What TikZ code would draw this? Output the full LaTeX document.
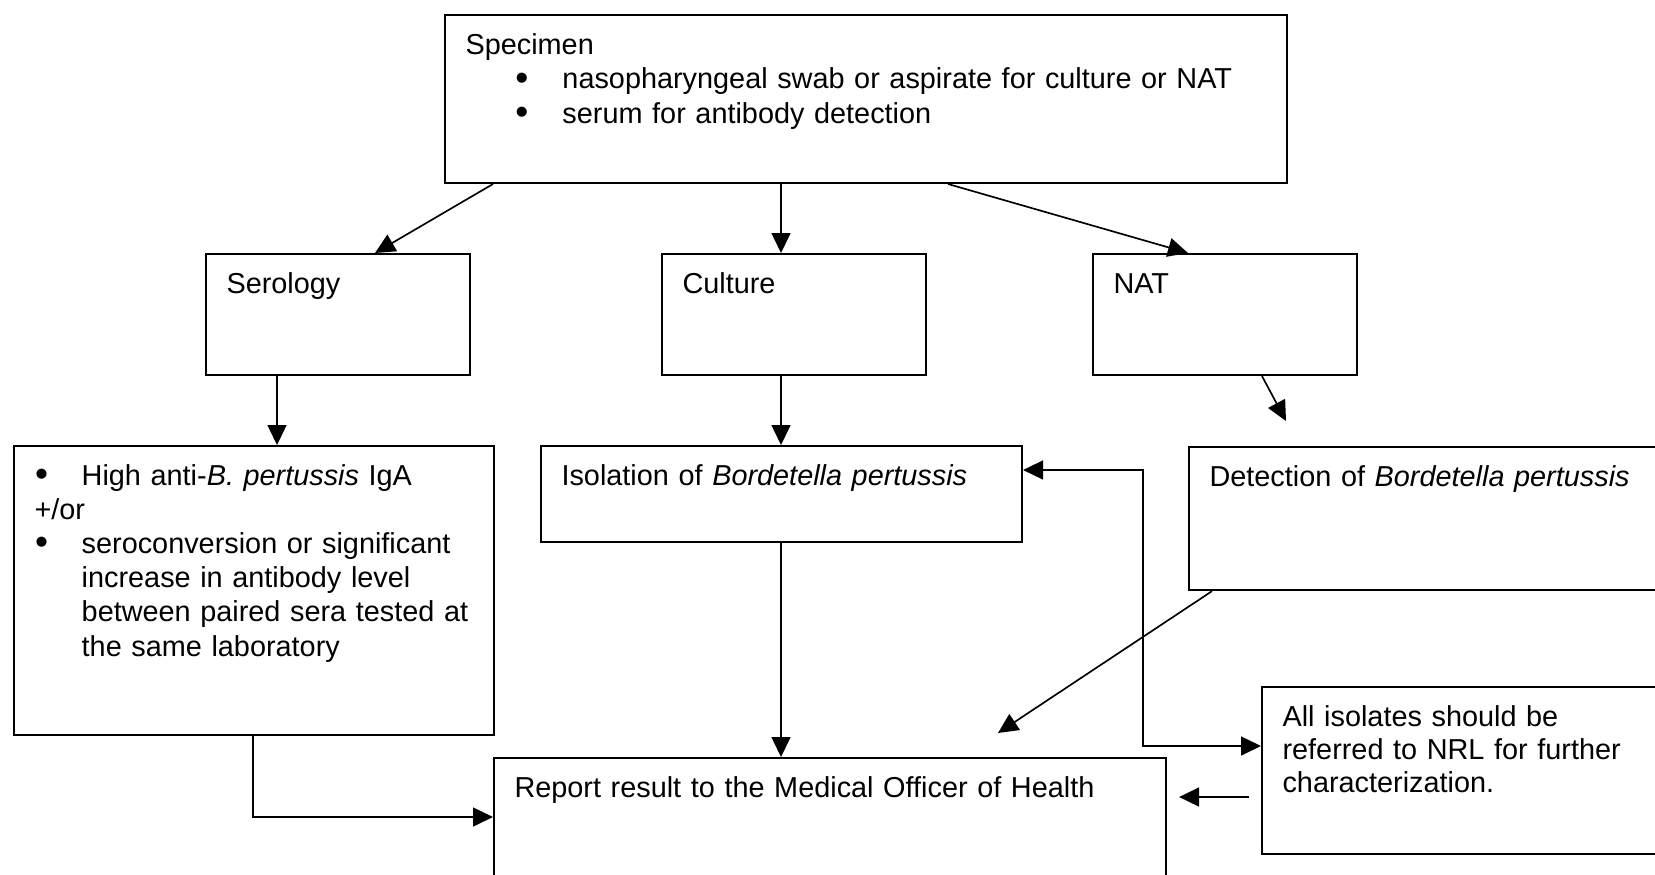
\documentclass[tikz,border=0pt]{standalone}
\usepackage{fontspec}
\setmainfont{Liberation Sans}
\usepackage{tikz}
\usetikzlibrary{arrows.meta,calc}
\tikzset{box/.style={draw,line width=0.8pt,anchor=north west,align=left,inner xsep=8pt,inner ysep=0pt,text height=15.2pt,font=\fontsize{11.25}{13.6}\selectfont}}
\tikzset{tight/.style={font=\fontsize{11.25}{13}\selectfont}}
\tikzset{arr/.style={->,line width=0.65pt}}
\newcommand{\bulletpar}[3]{\noindent\hangindent=#2\hangafter=1\hspace*{#1}\makebox[\dimexpr#2-#1\relax][l]{\raisebox{-0.04em}{\fontsize{14.5}{0}\selectfont\textbullet}}#3\par}

\begin{document}
\begin{tikzpicture}[x=0.39pt,y=-0.39pt,>={Triangle[length=7.8pt,width=7.4pt]}]
    \path[use as bounding box,fill=white] (0,0) rectangle (1655,874);
    \node[box,text width=312.4pt,text depth=50.3pt] (spec)at (444,14) {Specimen\par\bulletpar{19.4pt}{37.8pt}{nasopharyngeal swab or aspirate for culture or NAT}\bulletpar{19.4pt}{37.8pt}{serum for antibody detection}};
    \node[box,text width=87pt,text depth=32pt] (sero)at (205,253) {Serology};
    \node[box,text width=87pt,text depth=32pt] (cult)at (661,253) {Culture};
    \node[box,text width=87pt,text depth=32pt] (nat)at (1092,253) {NAT};
    \node[box,font=\fontsize{11.25}{13.35}\selectfont,text width=171.2pt,text depth=97.5pt] (serodet)at (13,445) {\bulletpar{0.2pt}{18.4pt}{High anti-\textit{B. pertussis} IgA}+/or\par\bulletpar{0.2pt}{18.4pt}{seroconversion or significant\hfil\break increase in antibody level\hfil\break between paired sera tested at\hfil\break the same laboratory}};
    \node[box,text width=171.6pt,text depth=22.2pt] (iso)at (540,445) {Isolation of \textit{Bordetella pertussis}};
    \node[box,text width=186.8pt,text depth=40.6pt] (det)at (1188,446) {Detection of \textit{Bordetella pertussis}};
    \node[box,text width=246.1pt,text depth=43.3pt] (rep)at (493,757) {Report result to the Medical Officer of Health};
    \node[box,tight,text width=159.5pt,text depth=49.9pt] (refer)at (1261,686) {All isolates should be\\referred to NRL for further\\characterization.};
    \coordinate (natend) at (1286,421);
    \coordinate (detend) at (998,733);
    \draw[arr] ($(spec.south west)+(49,0)$) to ($(sero.north west)+(170,0)$);
    \draw[arr] ($(spec.south west)+(337,0)$) to ($(cult.north west)+(120,0)$);
    \draw[arr] ($(spec.south west)+(504,0)$) to ($(nat.north west)+(96,0)$);
    \draw[arr] ($(nat.south west)+(170,0)$) to (natend);
    \draw[arr] ($(sero.south west)+(72,0)$) to ($(serodet.north west)+(264,0)$);
    \draw[arr] ($(cult.south west)+(120,0)$) to ($(iso.north west)+(241,0)$);
    \draw[arr] ($(iso.south west)+(241,0)$) to ($(rep.north west)+(288,0)$);
    \draw[arr] ($(serodet.south west)+(240,0)$) |- ($(rep.north west)+(0,60)$);
    \draw[arr] ($(det.south west)+(24,0)$) to (detend);
    \draw[arr,<->] ($(iso.north east)+(0,25)$) -- ++(120,0) |- ($(refer.north west)+(0,60)$);
    \draw[arr] ($(refer.north west)+(-12,111)$) to ($(rep.north east)+(12,40)$);
\end{tikzpicture}
\end{document}
